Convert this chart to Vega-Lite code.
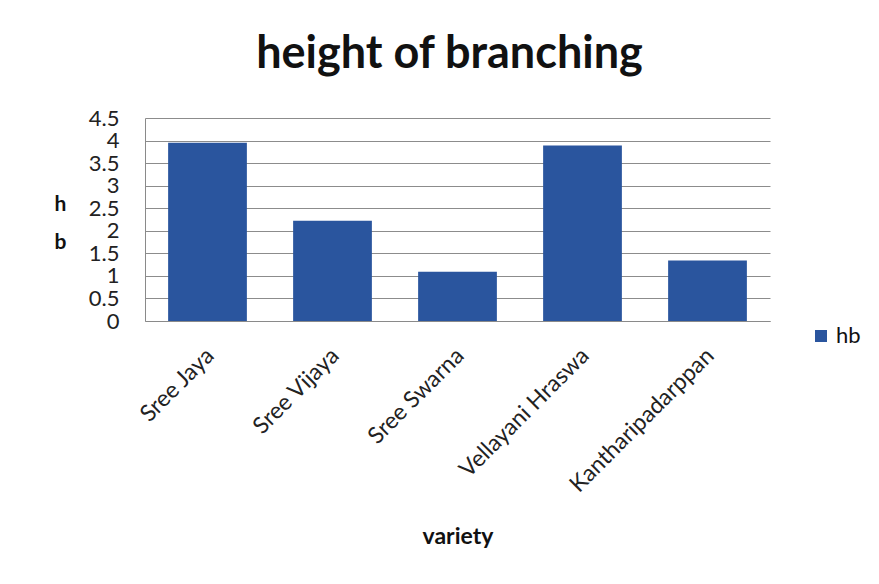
{
  "$schema": "https://vega.github.io/schema/vega-lite/v6.json",
  "width": 625,
  "height": 203,
  "autosize": {"type": "none"},
  "padding": {"left": 145, "top": 118, "right": 109, "bottom": 263},
  "background": "white",
  "title": {
    "text": "height of branching",
    "font": "Lato",
    "fontSize": 45,
    "fontWeight": "bold",
    "color": "#111111",
    "anchor": "middle",
    "frame": "group",
    "offset": 30,
    "dx": -8
  },
  "data": {
    "values": [
      {"variety": "Sree Jaya", "hb": 3.95},
      {"variety": "Sree Vijaya", "hb": 2.22},
      {"variety": "Sree Swarna", "hb": 1.09},
      {"variety": "Vellayani Hraswa", "hb": 3.89},
      {"variety": "Kantharipadarppan", "hb": 1.34}
    ]
  },
  "mark": {"type": "bar"},
  "encoding": {
    "x": {
      "field": "variety",
      "type": "nominal",
      "sort": null,
      "scale": {"paddingInner": 0.37, "paddingOuter": 0.185},
      "axis": {
        "title": "variety",
        "titleFont": "Lato",
        "titleFontSize": 23,
        "titleFontWeight": "bold",
        "titleColor": "#111111",
        "titleBaseline": "alphabetic",
        "titleY": 222,
        "titleAnchor": "middle",
        "labelFont": "Lato",
        "labelFontSize": 23,
        "labelColor": "#222222",
        "labelAngle": -45,
        "labelAlign": "right",
        "labelBaseline": "top",
        "labelPadding": 23,
        "labelOffset": -5,
        "labelLimit": 400,
        "ticks": false,
        "domainColor": "#8a8a8a",
        "grid": false
      }
    },
    "y": {
      "field": "hb",
      "type": "quantitative",
      "scale": {"domain": [0, 4.5], "nice": false},
      "axis": {
        "values": [0, 0.5, 1, 1.5, 2, 2.5, 3, 3.5, 4, 4.5],
        "format": "~g",
        "title": ["h", "b"],
        "titleAngle": 0,
        "titleFont": "Lato",
        "titleFontSize": 21,
        "titleFontWeight": "bold",
        "titleColor": "#111111",
        "titleAlign": "center",
        "titleBaseline": "alphabetic",
        "titleLineHeight": 38,
        "titleX": -85,
        "titleY": 92,
        "labelFont": "Lato",
        "labelFontSize": 22,
        "labelColor": "#222222",
        "labelPadding": 26,
        "labelFlush": false,
        "labelOverlap": false,
        "ticks": false,
        "domainColor": "#8a8a8a",
        "grid": true,
        "gridColor": "#8c8c8c",
        "gridWidth": 1
      }
    },
    "color": {
      "datum": "hb",
      "scale": {"range": ["#2A559E"]},
      "legend": {
        "title": null,
        "orient": "none",
        "legendX": 665,
        "legendY": 207,
        "symbolType": "square",
        "symbolSize": 144,
        "symbolStrokeWidth": 0,
        "labelFont": "Lato",
        "labelFontSize": 22,
        "labelColor": "#111111",
        "labelOffset": 4
      }
    }
  },
  "config": {
    "view": {"stroke": null}
  }
}
